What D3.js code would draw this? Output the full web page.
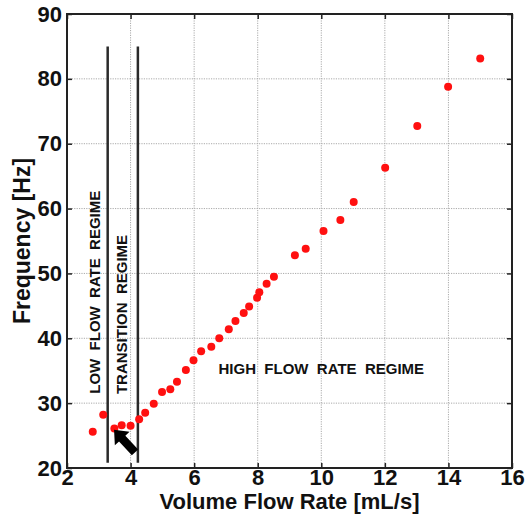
<!DOCTYPE html>
<html>
<head>
<meta charset="utf-8">
<script src="https://cdn.jsdelivr.net/npm/d3@7"></script>
<style>
html,body{margin:0;padding:0;background:#fff;}
svg{display:block;}
text{font-family:Arial,"Liberation Sans",Helvetica,sans-serif;}
</style>
</head>
<body>
<svg id="chart" width="531" height="521"></svg>
<script>
// ---- data ----
const flowRate = [2.81,3.14,3.49,3.72,4.00,4.27,4.46,4.73,4.99,5.25,5.46,5.74,5.98,6.22,6.54,6.79,7.09,7.30,7.56,7.73,7.98,8.05,8.28,8.51,9.17,9.51,10.07,10.60,11.02,12.01,13.02,13.99,15.00];
const frequency = [25.6,28.2,26.1,26.6,26.5,27.5,28.5,29.9,31.7,32.15,33.3,35.1,36.6,38.0,38.7,40.0,41.4,42.65,43.9,44.9,46.25,47.1,48.4,49.5,52.8,53.8,56.55,58.25,61.0,66.3,72.75,78.8,83.15];
const xTicks = [2,4,6,8,10,12,14,16];
const yTicks = [20,30,40,50,60,70,80,90];
const regimeBounds = [3.28, 4.23];      // vertical boundary lines (x)
const regimeBoundRange = [20.8, 85];     // y extent of boundary lines
const regimeLabels = ["LOW  FLOW  RATE  REGIME","TRANSITION  REGIME","HIGH  FLOW  RATE  REGIME"];
const regimeLabelX = [2.88, 3.71, 10.0];
const regimeLabelY = [47.1, 43.67, 35.27];
const regimeLabelRot = [-90, -90, 0];
const arrowTip = [3.48, 25.9];
const arrowTail = [4.14, 22.4];

// ---- layout ----
const W = 531, H = 521;
const m = {left:67, right:19, top:14, bottom:53};
const svg = d3.select("#chart");
const x = d3.scaleLinear().domain([2,16]).range([m.left, W - m.right]);
const y = d3.scaleLinear().domain([20,90]).range([H - m.bottom, m.top]);

// grid
const g = svg.append("g");
g.selectAll(".vg").data(xTicks.slice(1,-1)).join("line")
  .attr("x1", d=>x(d)).attr("x2", d=>x(d)).attr("y1", y(20)).attr("y2", y(90))
  .attr("stroke", "#aaa").attr("stroke-width", 1).attr("stroke-dasharray", "1.2,1.2");
g.selectAll(".hg").data(yTicks.slice(1,-1)).join("line")
  .attr("y1", d=>y(d)).attr("y2", d=>y(d)).attr("x1", x(2)).attr("x2", x(16))
  .attr("stroke", "#aaa").attr("stroke-width", 1).attr("stroke-dasharray", "1.2,1.2");

// axes (inward ticks)
const tickFont = "bold 22px Arial, 'Liberation Sans', sans-serif";
const ax = svg.append("g").attr("transform", `translate(0,${y(20)})`)
  .call(d3.axisBottom(x).tickValues(xTicks).tickSizeInner(-5).tickSizeOuter(0).tickPadding(1).tickFormat(d3.format("d")));
const axTop = svg.append("g").attr("transform", `translate(0,${y(90)})`)
  .call(d3.axisTop(x).tickValues(xTicks).tickSizeInner(-5).tickSizeOuter(0).tickFormat(""));
const ay = svg.append("g").attr("transform", `translate(${x(2)},0)`)
  .call(d3.axisLeft(y).tickValues(yTicks).tickSizeInner(-5).tickSizeOuter(0).tickPadding(5).tickFormat(d3.format("d")));
const ayR = svg.append("g").attr("transform", `translate(${x(16)},0)`)
  .call(d3.axisRight(y).tickValues(yTicks).tickSizeInner(-5).tickSizeOuter(0).tickFormat(""));
[ax, axTop, ay, ayR].forEach(a => {
  a.select(".domain").remove();
  a.selectAll(".tick line").attr("stroke", "#222").attr("stroke-width", 1.5);
  a.selectAll("text").attr("fill", "#111").style("font", tickFont);
});
ax.selectAll("text").attr("dy", "0.71em");

// box
svg.append("rect").attr("x", x(2)).attr("y", y(90)).attr("width", x(16)-x(2)).attr("height", y(20)-y(90))
  .attr("fill", "none").attr("stroke", "#222").attr("stroke-width", 2);

// axis titles
svg.append("text").attr("x", (x(2)+x(16))/2).attr("y", 509).attr("text-anchor", "middle")
  .style("font", "bold 22px Arial, 'Liberation Sans', sans-serif").attr("fill", "#111")
  .text("Volume Flow Rate [mL/s]");
svg.append("text").attr("transform", `translate(30,${(y(20)+y(90))/2}) rotate(-90)`).attr("text-anchor", "middle")
  .style("font", "bold 23px Arial, 'Liberation Sans', sans-serif").attr("fill", "#111")
  .text("Frequency [Hz]");

// regime boundary lines
svg.selectAll(".bound").data(regimeBounds).join("line")
  .attr("x1", d=>x(d)).attr("x2", d=>x(d)).attr("y1", y(regimeBoundRange[0])).attr("y2", y(regimeBoundRange[1]))
  .attr("stroke", "#2a2a2a").attr("stroke-width", 2.5);

// regime labels
svg.selectAll(".rl").data(regimeLabels).join("text")
  .attr("transform", (d,i)=>`translate(${x(regimeLabelX[i])},${y(regimeLabelY[i])}) rotate(${regimeLabelRot[i]})`)
  .attr("text-anchor", "middle").attr("dominant-baseline", "central")
  .style("font", "bold 15px Arial, 'Liberation Sans', sans-serif").style("white-space", "pre")
  .attr("xml:space", "preserve").attr("fill", "#111")
  .text(d=>d);

// points
svg.selectAll(".pt").data(flowRate).join("circle")
  .attr("cx", d=>x(d)).attr("cy", (d,i)=>y(frequency[i])).attr("r", 4)
  .attr("fill", "#ff1010");

// arrow
(function(){
  const tx = x(arrowTip[0]), ty = y(arrowTip[1]);
  const bx = x(arrowTail[0]), by = y(arrowTail[1]);
  const L = Math.hypot(tx-bx, ty-by);
  const ux = (tx-bx)/L, uy = (ty-by)/L;
  const nx = -uy, ny = ux;
  const h = 12, hw = 10, sw = 4.3;
  const hx = tx - ux*h, hy = ty - uy*h;
  const pts = [[tx,ty],[hx+nx*hw,hy+ny*hw],[hx+nx*sw,hy+ny*sw],[bx+nx*sw,by+ny*sw],[bx-nx*sw,by-ny*sw],[hx-nx*sw,hy-ny*sw],[hx-nx*hw,hy-ny*hw]];
  svg.append("path").attr("d", d3.line()(pts) + "Z").attr("fill", "#000");
})();
</script>
</body>
</html>
